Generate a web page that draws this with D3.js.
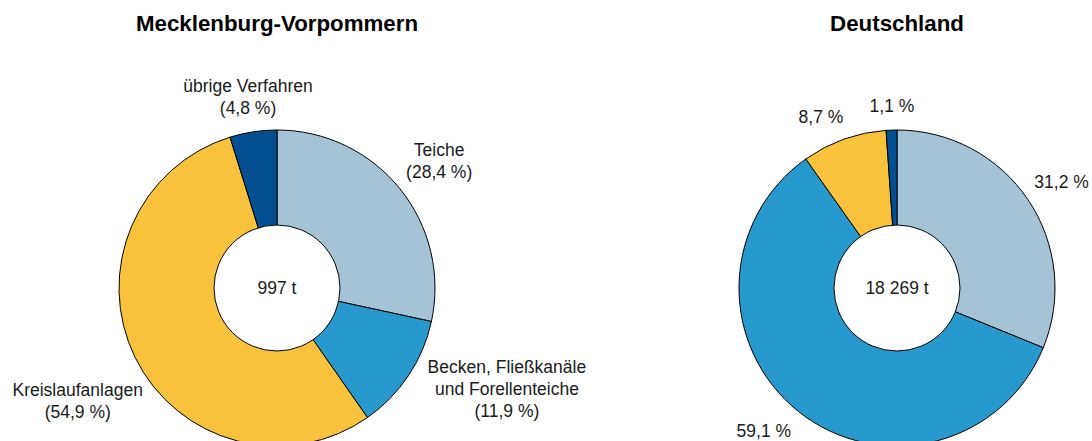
<!DOCTYPE html>
<html>
<head>
<meta charset="utf-8">
<script src="https://cdn.jsdelivr.net/npm/d3@7"></script>
<style>
  body { margin: 0; background: #fff; }
  text { font-family: "Liberation Sans", Arial, sans-serif; fill: #1a1a1a; }
</style>
</head>
<body>
<svg id="chart" width="1092" height="441"></svg>
<script>
// DATA
const categories = ["Teiche", "Becken, Fließkanäle und Forellenteiche", "Kreislaufanlagen", "übrige Verfahren"];
const colors = ["#a5c3d7", "#2899cc", "#f9c23c", "#034f92"];

const mvValues = [28.4, 11.9, 54.9, 4.8];
const deValues = [31.2, 59.1, 8.7, 1.1];

const mvTitle = "Mecklenburg-Vorpommern";
const deTitle = "Deutschland";
const mvTotal = "997 t";
const deTotal = "18 269 t";

// label lines per slice
const mvLabels = [
  ["Teiche", "(28,4 %)"],
  ["Becken, Fließkanäle", "und Forellenteiche", "(11,9 %)"],
  ["Kreislaufanlagen", "(54,9 %)"],
  ["übrige Verfahren", "(4,8 %)"]
];
const deLabels = [["31,2 %"], ["59,1 %"], ["8,7 %"], ["1,1 %"]];

// LAYOUT (label distance from centre and angle nudge in degrees)
const mvLabelPos = [
  { r: 206, da: 0.8 },
  { r: 251, da: -10 },
  { r: 229, da: -3.4 },
  { r: 193, da: 0 }
];
const deLabelPos = [
  { r: 196, da: 1 },
  { r: 195, da: 4.6 },
  { r: 187, da: -4.4 },
  { r: 182, da: 0.4 }
];

const svg = d3.select("#chart");
const outerR = 158,
  innerR = 63,
  fontSize = 17.5,
  lineH = 22;

const pie = d3.pie().sort(null).value((d) => d);
const arc = d3.arc().innerRadius(0).outerRadius(outerR);

function donut(cx, cy, title, values, labels, labelPos, total) {
  const g = svg.append("g").attr("transform", `translate(${cx},${cy})`);

  svg
    .append("text")
    .attr("x", cx)
    .attr("y", 31)
    .attr("text-anchor", "middle")
    .attr("font-size", 22.3)
    .attr("font-weight", "bold")
    .style("fill", "#000")
    .text(title);

  const arcs = pie(values);

  g.selectAll("path")
    .data(arcs)
    .join("path")
    .attr("d", arc)
    .attr("fill", (d, i) => colors[i])
    .attr("stroke", "#000")
    .attr("stroke-width", 1);

  g.append("circle")
    .attr("r", innerR)
    .attr("fill", "#fff")
    .attr("stroke", "#000")
    .attr("stroke-width", 1);

  g.append("text")
    .attr("y", 0)
    .attr("dy", "0.35em")
    .attr("text-anchor", "middle")
    .attr("font-size", fontSize)
    .text(total);

  const lbl = g
    .selectAll("g.lbl")
    .data(arcs)
    .join("g")
    .attr("class", "lbl")
    .attr("transform", (d, i) => {
      const p = labelPos[i];
      const a = (d.startAngle + d.endAngle) / 2 + (p.da * Math.PI) / 180;
      const c = d3.arc().innerRadius(p.r).outerRadius(p.r).startAngle(a).endAngle(a).centroid();
      return `translate(${c[0]},${c[1]})`;
    });

  lbl.each(function (d, i) {
    const lines = labels[i];
    const t = d3
      .select(this)
      .append("text")
      .attr("text-anchor", "middle")
      .attr("font-size", fontSize);
    t.selectAll("tspan")
      .data(lines)
      .join("tspan")
      .attr("x", 0)
      .attr("y", (l, j) => (j - (lines.length - 1) / 2) * lineH)
      .attr("dy", "0.35em")
      .text((l) => l);
  });
}

donut(277, 288, mvTitle, mvValues, mvLabels, mvLabelPos, mvTotal);
donut(897, 288, deTitle, deValues, deLabels, deLabelPos, deTotal);
</script>
</body>
</html>
